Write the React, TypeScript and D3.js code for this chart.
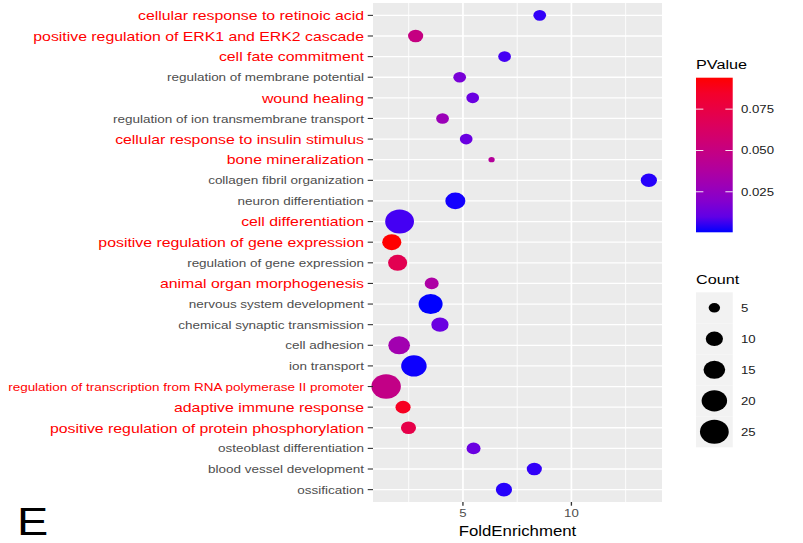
import React from 'react'
import * as d3 from 'd3'

const terms = [
  'cellular response to retinoic acid',
  'positive regulation of ERK1 and ERK2 cascade',
  'cell fate commitment',
  'regulation of membrane potential',
  'wound healing',
  'regulation of ion transmembrane transport',
  'cellular response to insulin stimulus',
  'bone mineralization',
  'collagen fibril organization',
  'neuron differentiation',
  'cell differentiation',
  'positive regulation of gene expression',
  'regulation of gene expression',
  'animal organ morphogenesis',
  'nervous system development',
  'chemical synaptic transmission',
  'cell adhesion',
  'ion transport',
  'regulation of transcription from RNA polymerase II promoter',
  'adaptive immune response',
  'positive regulation of protein phosphorylation',
  'osteoblast differentiation',
  'blood vessel development',
  'ossification',
]
const foldEnrichment = [8.54, 2.82, 6.92, 4.85, 5.45, 4.06, 5.15, 6.32, 13.57, 4.65, 2.08, 1.72, 1.99, 3.56, 3.51, 3.94, 2.06, 2.74, 1.46, 2.24, 2.49, 5.49, 8.29, 6.89]
const counts = [6, 8, 6, 6, 6, 6, 6, 2, 9, 13, 25, 12, 12, 7, 18, 10, 15, 20, 26, 8, 8, 7, 8, 9]
const pValues = [0.003, 0.05, 0.005, 0.016, 0.012, 0.028, 0.012, 0.04, 0.002, 0.001, 0.005, 0.094, 0.07, 0.036, 0.0005, 0.012, 0.031, 0.0008, 0.048, 0.087, 0.073, 0.012, 0.003, 0.002]
// terms shown in red on the y axis
const highlighted = [
  'cellular response to retinoic acid',
  'positive regulation of ERK1 and ERK2 cascade',
  'cell fate commitment',
  'wound healing',
  'cellular response to insulin stimulus',
  'bone mineralization',
  'cell differentiation',
  'positive regulation of gene expression',
  'animal organ morphogenesis',
  'regulation of transcription from RNA polymerase II promoter',
  'adaptive immune response',
  'positive regulation of protein phosphorylation',
]
const xTicks = [5, 10]
const xMinorTicks = [2.5, 7.5, 12.5]
const pTicks = [0.025, 0.05, 0.075]
const countBreaks = [5, 10, 15, 20, 25]

const [W, H] = [803, 543]
const SX = 1.2 // the original figure is stretched horizontally
const panel = { left: 373 / SX, right: 662 / SX, top: 3, bottom: 502 }
const font = '"Liberation Sans", Arial, sans-serif'

export default function App() {
  const [xMin, xMax] = d3.extent(foldEnrichment) as [number, number]
  const xPad = (xMax - xMin) * 0.05
  const x = d3.scaleLinear().domain([xMin - xPad, xMax + xPad]).range([panel.left, panel.right])
  const y = d3.scalePoint().domain(terms).range([panel.top, panel.bottom]).padding(0.6)
  const size = d3.scaleSqrt().domain([2, 25]).range([2.6, 12])
  const [pMin, pMax] = d3.extent(pValues) as [number, number]
  const color = d3.scaleLinear<string>().domain([pMin, pMax]).range(['blue', 'red']).interpolate(d3.interpolateLab)

  // colourbar
  const bar = { x: 580, w: 30.6, top: 77.7, bottom: 232.3 }
  const barY = d3.scaleLinear().domain([pMin, pMax]).range([bar.bottom, bar.top])
  const stops = d3.range(0, 1.0001, 0.1)

  // size legend
  const keyTop = 292.3
  const keyStep = 31

  return (
    <div style={{ position: 'absolute', left: 0, top: 0 }}>
      <svg width={W} height={H} style={{ display: 'block', background: 'white' }}>
        <defs>
          <linearGradient id="pgrad" x1="0" y1="1" x2="0" y2="0">
            {stops.map(t => (
              <stop key={t} offset={t} stopColor={color(pMin + t * (pMax - pMin))} />
            ))}
          </linearGradient>
        </defs>
        <g transform={`scale(${SX},1)`} fontFamily={font}>
          <rect x={panel.left} y={panel.top} width={panel.right - panel.left} height={panel.bottom - panel.top} fill="#EBEBEB" />
          {xMinorTicks.map(v => (
            <line key={'mn' + v} x1={x(v)} x2={x(v)} y1={panel.top} y2={panel.bottom} stroke="white" strokeWidth={0.8} />
          ))}
          {xTicks.map(v => (
            <line key={'mj' + v} x1={x(v)} x2={x(v)} y1={panel.top} y2={panel.bottom} stroke="white" strokeWidth={1.4} />
          ))}
          {terms.map(t => (
            <line key={'h' + t} x1={panel.left} x2={panel.right} y1={y(t)} y2={y(t)} stroke="white" strokeWidth={1.3} />
          ))}

          {terms.map((t, i) => (
            <circle key={'c' + t} cx={x(foldEnrichment[i])} cy={y(t)} r={size(counts[i])} fill={color(pValues[i])} />
          ))}

          {/* y axis */}
          {terms.map(t => {
            const red = highlighted.includes(t)
            const fs = red ? (t.length > 50 ? 11.25 : 13.2) : 11.25
            return (
              <g key={'yl' + t}>
                <line x1={panel.left - 4.4} x2={panel.left} y1={y(t)} y2={y(t)} stroke="#333333" strokeWidth={1.1} />
                <text x={panel.left - 7.5} y={y(t)} dy="0.36em" textAnchor="end" fontSize={fs} fill={red ? '#FF0000' : '#4D4D4D'}>{t}</text>
              </g>
            )
          })}

          {/* x axis */}
          {xTicks.map(v => (
            <g key={'xt' + v}>
              <line x1={x(v)} x2={x(v)} y1={panel.bottom} y2={panel.bottom + 3.7} stroke="#333333" strokeWidth={1.1} />
              <text x={x(v)} y={517.5} textAnchor="middle" fontSize={11} fill="#4D4D4D">{v}</text>
            </g>
          ))}
          <text x={(panel.left + panel.right) / 2} y={536} textAnchor="middle" fontSize={14} fill="black">FoldEnrichment</text>

          {/* PValue legend */}
          <text x={bar.x} y={69.3} fontSize={13.5} fill="black">PValue</text>
          <rect x={bar.x} y={bar.top} width={bar.w} height={bar.bottom - bar.top} fill="url(#pgrad)" />
          {pTicks.map(p => (
            <g key={'pt' + p}>
              <line x1={bar.x} x2={bar.x + bar.w * 0.2} y1={barY(p)} y2={barY(p)} stroke="white" strokeWidth={0.9} />
              <line x1={bar.x + bar.w * 0.8} x2={bar.x + bar.w} y1={barY(p)} y2={barY(p)} stroke="white" strokeWidth={0.9} />
              <text x={617.5} y={barY(p)} dy="0.36em" fontSize={11} fill="#1A1A1A">{d3.format('.3f')(p)}</text>
            </g>
          ))}

          {/* Count legend */}
          <text x={bar.x} y={284} fontSize={13.5} fill="black">Count</text>
          {countBreaks.map((c, i) => {
            const cy = keyTop + keyStep * (i + 0.5)
            return (
              <g key={'ck' + c}>
                <rect x={bar.x} y={keyTop + keyStep * i} width={bar.w} height={keyStep} fill="#F2F2F2" />
                <circle cx={bar.x + bar.w / 2} cy={cy} r={size(c)} fill="black" />
                <text x={617.5} y={cy} dy="0.36em" fontSize={11} fill="#1A1A1A">{c}</text>
              </g>
            )
          })}

          <text x={14.2} y={535.5} fontSize={39} fill="black">E</text>
        </g>
      </svg>
    </div>
  )
}
